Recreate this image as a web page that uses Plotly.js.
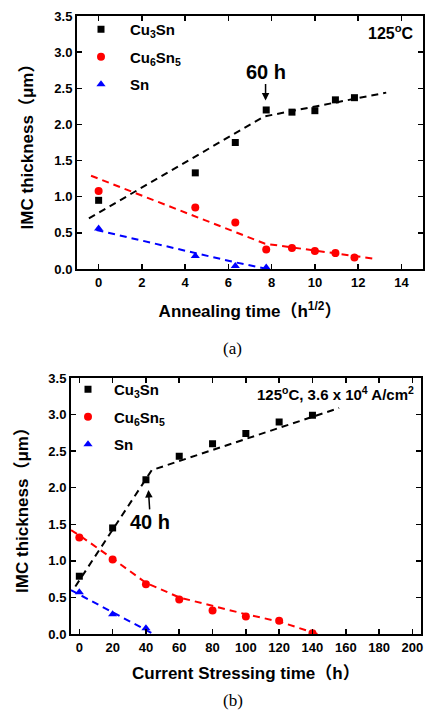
<!DOCTYPE html>
<html><head><meta charset="utf-8">
<script src="https://cdn.plot.ly/plotly-3.0.1.min.js"></script>
<style>html,body{margin:0;padding:0;background:#fff;}#chart{width:433px;height:711px;}</style>
</head><body><div id="chart"></div>
<script>
// ---- Panel (a): annealing ----
const annealTime = [0, 4.47, 6.32, 7.75, 8.94, 10, 10.95, 11.83];
const annealCu3Sn = [0.95, 1.33, 1.75, 2.20, 2.17, 2.19, 2.34, 2.37];
const annealCu6Sn5 = [1.08, 0.85, 0.645, 0.27, 0.29, 0.25, 0.22, 0.16];
const annealSnTime = [0, 4.47, 6.32, 7.75];
const annealSn = [0.56, 0.18, 0.04, 0.02];
const fitA_Cu3Sn_x = [-0.45, 7.65, 13.3];
const fitA_Cu3Sn_y = [0.70, 2.11, 2.44];
const fitA_Cu6Sn5_x = [-0.35, 7.7, 12.8];
const fitA_Cu6Sn5_y = [1.29, 0.35, 0.14];
const fitA_Sn_x = [-0.1, 6.2, 7.8];
const fitA_Sn_y = [0.54, 0.10, 0.0];

// ---- Panel (b): current stressing ----
const stressTime = [0, 20, 40, 60, 80, 100, 120, 140];
const stressCu3Sn = [0.79, 1.45, 2.11, 2.43, 2.60, 2.74, 2.90, 2.99];
const stressCu6Sn5 = [1.32, 1.02, 0.68, 0.47, 0.32, 0.24, 0.18, 0.01];
const stressSnTime = [0, 20, 40];
const stressSn = [0.57, 0.27, 0.08];
const fitB_Cu3Sn_x = [-2.4, 43.5, 156];
const fitB_Cu3Sn_y = [0.65, 2.24, 3.09];
const fitB_Cu6Sn5_x = [-5, 0, 20, 40, 60, 80, 100, 120, 143];
const fitB_Cu6Sn5_y = [1.42, 1.35, 1.03, 0.70, 0.50, 0.38, 0.27, 0.17, 0.0];
const fitB_Sn_x = [-5, 44.5];
const fitB_Sn_y = [0.60, 0.0];

const xTicksA = [0, 2, 4, 6, 8, 10, 12, 14];
const xTicksB = [0, 20, 40, 60, 80, 100, 120, 140, 160, 180, 200];
const yTicks = [0.0, 0.5, 1.0, 1.5, 2.0, 2.5, 3.0, 3.5];
const yTickText = ['0.0','0.5','1.0','1.5','2.0','2.5','3.0','3.5'];

const BLACK = '#000000', RED = '#ff0000', BLUE = '#0000ff';
const FF = 'Arial, "Liberation Sans", "Noto Sans CJK SC", sans-serif';

function fit(x, y, color, xa, ya) {
  return {x: x, y: y, xaxis: xa, yaxis: ya, mode: 'lines', showlegend: false,
    line: {color: color, width: 2, dash: '7px,5px'}, hoverinfo: 'skip'};
}
function pts(x, y, name, color, symbol, size, xa, ya, leg, grp) {
  return {x: x, y: y, xaxis: xa, yaxis: ya, mode: 'markers', name: name, legend: leg,
    legendgroup: grp, marker: {color: color, symbol: symbol, size: size}};
}

const traces = [
  fit(fitA_Cu3Sn_x, fitA_Cu3Sn_y, BLACK, 'x', 'y'),
  fit(fitA_Cu6Sn5_x, fitA_Cu6Sn5_y, RED, 'x', 'y'),
  fit(fitA_Sn_x, fitA_Sn_y, BLUE, 'x', 'y'),
  pts(annealTime, annealCu3Sn, 'Cu<sub>3</sub>Sn', BLACK, 'square', 7, 'x', 'y', 'legend', 'a1'),
  pts(annealTime, annealCu6Sn5, 'Cu<sub>6</sub>Sn<sub>5</sub>', RED, 'circle', 8, 'x', 'y', 'legend', 'a2'),
  pts(annealSnTime, annealSn, 'Sn', BLUE, 'triangle-up', 8, 'x', 'y', 'legend', 'a3'),
  fit(fitB_Cu3Sn_x, fitB_Cu3Sn_y, BLACK, 'x2', 'y2'),
  fit(fitB_Cu6Sn5_x, fitB_Cu6Sn5_y, RED, 'x2', 'y2'),
  fit(fitB_Sn_x, fitB_Sn_y, BLUE, 'x2', 'y2'),
  pts(stressTime, stressCu3Sn, 'Cu<sub>3</sub>Sn', BLACK, 'square', 7, 'x2', 'y2', 'legend2', 'b1'),
  pts(stressTime, stressCu6Sn5, 'Cu<sub>6</sub>Sn<sub>5</sub>', RED, 'circle', 8, 'x2', 'y2', 'legend2', 'b2'),
  pts(stressSnTime, stressSn, 'Sn', BLUE, 'triangle-up', 8, 'x2', 'y2', 'legend2', 'b3')
];

const W = 433, H = 711;
function axisBase() {
  return {showgrid: false, zeroline: false, showline: true, linecolor: '#000', linewidth: 2,
    mirror: 'ticks', ticks: 'inside', ticklen: 5, tickwidth: 1.5, tickcolor: '#000',
    tickfont: {family: FF, size: 13, weight: 'bold', color: '#000'}};
}
const titleFont = {family: FF, size: 17, weight: 'bold', color: '#000'};
const legFont = {family: FF, size: 15, weight: 'bold', color: '#000'};

const layout = {
  width: W, height: H, margin: {l: 0, r: 0, t: 0, b: 0},
  paper_bgcolor: '#fff', plot_bgcolor: '#fff', showlegend: true,
  xaxis: Object.assign(axisBase(), {domain: [77/W, 423/W], range: [-1, 15], anchor: 'y',
    tickvals: xTicksA, title: {text: 'Annealing time（h<sup>1/2</sup>）', font: titleFont, standoff: 17}}),
  yaxis: Object.assign(axisBase(), {domain: [1 - 269/H, 1 - 16/H], range: [0, 3.5], anchor: 'x',
    tickvals: yTicks, ticktext: yTickText, title: {text: 'IMC thickness（μm）', font: titleFont, standoff: 16}}),
  xaxis2: Object.assign(axisBase(), {domain: [71/W, 420.7/W], range: [-5, 205], anchor: 'y2',
    tickvals: xTicksB, title: {text: 'Current Stressing time（h）', font: titleFont, standoff: 14}}),
  yaxis2: Object.assign(axisBase(), {domain: [1 - 634/H, 1 - 378/H], range: [0, 3.5], anchor: 'x2',
    tickvals: yTicks, ticktext: yTickText, title: {text: 'IMC thickness（μm）', font: titleFont, standoff: 15}}),
  legend: {x: 72/W, y: 1 - 13/H, xanchor: 'left', yanchor: 'top', bgcolor: 'rgba(0,0,0,0)',
    font: legFont, itemwidth: 48, tracegroupgap: 5, traceorder: 'grouped'},
  legend2: {x: 62/W, y: 1 - 373/H, xanchor: 'left', yanchor: 'top', bgcolor: 'rgba(0,0,0,0)',
    font: legFont, itemwidth: 42, tracegroupgap: 5, traceorder: 'grouped'},
  annotations: [
    {xref: 'x', yref: 'y', x: 7.72, y: 2.33, text: '60 h', showarrow: true, ax: 0, ay: -29,
      arrowhead: 2, arrowsize: 1, arrowwidth: 1.5, arrowcolor: '#000',
      font: {family: FF, size: 20, weight: 'bold', color: '#000'}},
    {xref: 'x2', yref: 'y2', x: 41.5, y: 1.97, text: '40 h', showarrow: true, ax: 2, ay: 32,
      arrowhead: 2, arrowsize: 1, arrowwidth: 1.5, arrowcolor: '#000',
      font: {family: FF, size: 20, weight: 'bold', color: '#000'}},
    {xref: 'paper', yref: 'paper', x: 416/W, y: 1 - 32/H, xanchor: 'right', yanchor: 'middle',
      text: '125<sup>o</sup>C', showarrow: false, font: {family: FF, size: 16, weight: 'bold', color: '#000'}},
    {xref: 'paper', yref: 'paper', x: 416/W, y: 1 - 393/H, xanchor: 'right', yanchor: 'middle',
      text: '125<sup>o</sup>C, 3.6 x 10<sup>4</sup> A/cm<sup>2</sup>', showarrow: false,
      font: {family: FF, size: 15, weight: 'bold', color: '#000'}},
    {xref: 'paper', yref: 'paper', x: 233/W, y: 1 - 348/H, xanchor: 'center', yanchor: 'middle',
      text: '(a)', showarrow: false, font: {family: '"Liberation Serif", "Times New Roman", serif', size: 17, color: '#000'}},
    {xref: 'paper', yref: 'paper', x: 233/W, y: 1 - 700/H, xanchor: 'center', yanchor: 'middle',
      text: '(b)', showarrow: false, font: {family: '"Liberation Serif", "Times New Roman", serif', size: 17, color: '#000'}}
  ]
};

Plotly.newPlot('chart', traces, layout, {displayModeBar: false, staticPlot: true});
</script>
</body></html>
